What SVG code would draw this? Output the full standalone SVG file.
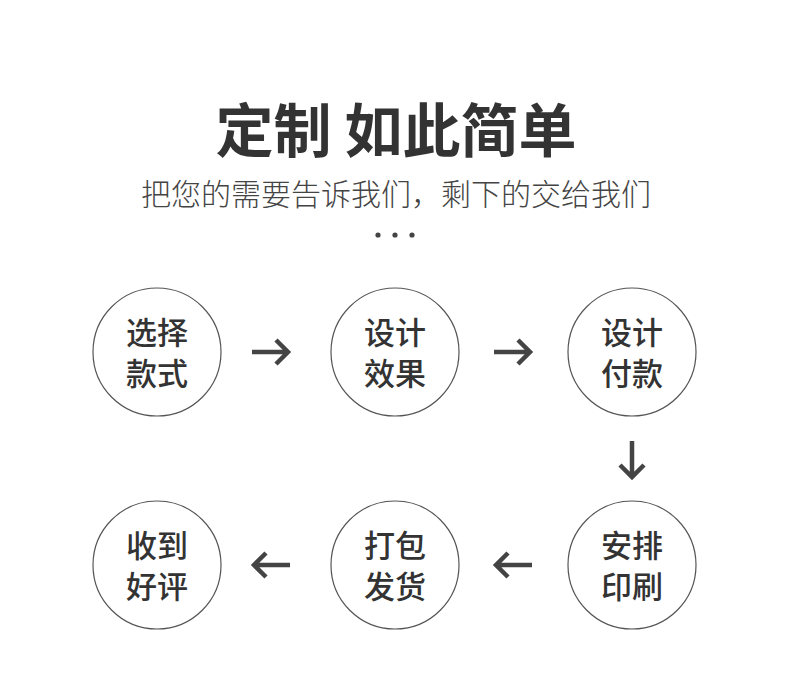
<svg xmlns="http://www.w3.org/2000/svg" width="790" height="699" viewBox="0 0 790 699">
<style>
.title{font-family:"Noto Sans CJK SC","Noto Sans",sans-serif;font-weight:700;font-size:58px;fill:#333;text-anchor:middle}
.sub{font-family:"Noto Sans CJK SC","Noto Sans",sans-serif;font-weight:300;font-size:30px;fill:#444;text-anchor:middle}
.lbl{font-family:"Noto Sans CJK SC","Noto Sans",sans-serif;font-weight:500;font-size:31px;fill:#333;text-anchor:middle}
.ring{fill:#fff;stroke:#555;stroke-width:1.2}
.arr{fill:none;stroke:#444;stroke-width:4.5;stroke-linejoin:miter}
</style>
<rect width="790" height="699" fill="#fff"/>
<text class="title" x="396" y="152">定制 如此简单</text>
<text class="sub" x="396" y="205">把您的需要告诉我们，剩下的交给我们</text>
<g fill="#444"><circle cx="378" cy="235" r="2.6"/><circle cx="395" cy="235" r="2.6"/><circle cx="412" cy="235" r="2.6"/></g>
<g id="connectors">
<path class="arr" d="M252,352H288M276,340L288,352L276,364"/>
<path class="arr" d="M494,352H530M518,340L530,352L518,364"/>
<path class="arr" d="M632,441V477M620,465L632,477L644,465"/>
<path class="arr" d="M532,565H496M508,553L496,565L508,577"/>
<path class="arr" d="M290,565H254M266,553L254,565L266,577"/>
</g>
<g id="n1"><circle class="ring" cx="157" cy="352" r="64"/><text class="lbl" x="157" y="344">选择</text><text class="lbl" x="157" y="385">款式</text></g>
<g id="n2"><circle class="ring" cx="395" cy="352" r="64"/><text class="lbl" x="395" y="344">设计</text><text class="lbl" x="395" y="385">效果</text></g>
<g id="n3"><circle class="ring" cx="632" cy="352" r="64"/><text class="lbl" x="632" y="344">设计</text><text class="lbl" x="632" y="385">付款</text></g>
<g id="n4"><circle class="ring" cx="632" cy="565" r="64"/><text class="lbl" x="632" y="557">安排</text><text class="lbl" x="632" y="598">印刷</text></g>
<g id="n5"><circle class="ring" cx="395" cy="565" r="64"/><text class="lbl" x="395" y="557">打包</text><text class="lbl" x="395" y="598">发货</text></g>
<g id="n6"><circle class="ring" cx="157" cy="565" r="64"/><text class="lbl" x="157" y="557">收到</text><text class="lbl" x="157" y="598">好评</text></g>
</svg>
